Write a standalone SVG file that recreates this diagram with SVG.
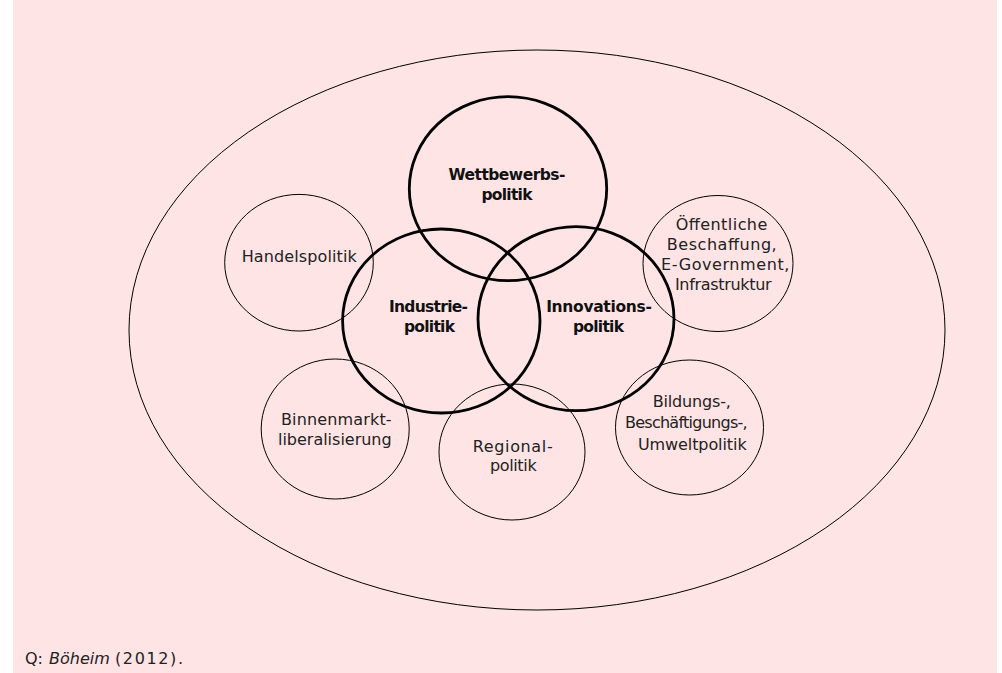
<svg xmlns="http://www.w3.org/2000/svg" width="1002" height="673" viewBox="0 0 1002 673">
<style>
.bg{fill:#fee4e4}
.outer{fill:none;stroke:#000;stroke-width:1}
.thin{fill:none;stroke:#000;stroke-width:1}
.bold{fill:none;stroke:#000;stroke-width:2.8}
.t{font-family:"DejaVu Sans","Liberation Sans",sans-serif;font-size:16px;fill:#222;text-anchor:middle}
.b{font-family:"DejaVu Sans","Liberation Sans",sans-serif;font-size:15.5px;font-weight:bold;fill:#111;text-anchor:middle}
.f{font-family:"DejaVu Sans","Liberation Sans",sans-serif;font-size:16px;fill:#222}
</style>
<rect class="bg" x="13" y="0" width="984" height="673"/>
<g id="outer"><ellipse class="outer" cx="537" cy="330" rx="408" ry="280"/></g>
<g id="handel"><ellipse class="thin" cx="299" cy="262.7" rx="74.3" ry="68.3"/>
<text class="t" x="299.2" y="261.7" textLength="115">Handelspolitik</text></g>
<g id="oeffentlich"><ellipse class="thin" cx="718" cy="263.5" rx="75" ry="68"/>
<text class="t" x="721.5" y="229.5" textLength="91.6">Öffentliche</text>
<text class="t" x="721.7" y="249.5" textLength="110">Beschaffung,</text>
<text class="t" x="725.2" y="269.5" textLength="128.3">E-Government,</text>
<text class="t" x="723.3" y="289.5" textLength="96.7">Infrastruktur</text></g>
<g id="binnen"><ellipse class="thin" cx="335.2" cy="429" rx="74" ry="70"/>
<text class="t" x="336.3" y="425" textLength="110.7">Binnenmarkt-</text>
<text class="t" x="334.8" y="445" textLength="113.7">liberalisierung</text></g>
<g id="regional"><ellipse class="thin" cx="512" cy="452" rx="73" ry="68"/>
<text class="t" x="512.7" y="451.7" textLength="80">Regional-</text>
<text class="t" x="513.3" y="471" textLength="46.7">politik</text></g>
<g id="bildung"><ellipse class="thin" cx="689.5" cy="427.5" rx="74" ry="67.5"/>
<text class="t" x="691.8" y="407" textLength="78.3">Bildungs-,</text>
<text class="t" x="686.3" y="428" textLength="122.7">Beschäftigungs-,</text>
<text class="t" x="692.3" y="449.5" textLength="108.7">Umweltpolitik</text></g>
<g id="wettbewerb"><ellipse class="bold" cx="508" cy="188.7" rx="98.7" ry="92"/>
<text class="b" x="507" y="180" textLength="117">Wettbewerbs-</text>
<text class="b" x="507" y="199.5" textLength="51">politik</text></g>
<g id="industrie"><ellipse class="bold" cx="441.3" cy="321" rx="98.7" ry="92"/>
<text class="b" x="428.5" y="311.7" textLength="79">Industrie-</text>
<text class="b" x="429.5" y="331.5" textLength="51">politik</text></g>
<g id="innovation"><ellipse class="bold" cx="576" cy="318.7" rx="98" ry="92"/>
<text class="b" x="599" y="311.7" textLength="105.7">Innovations-</text>
<text class="b" x="598.5" y="331.5" textLength="51">politik</text></g>
<g id="connectors"></g>
<g id="source">
<text class="f" x="25" y="664.3">Q:</text>
<text class="f" x="49" y="664.3" font-style="italic">Böheim</text>
<text class="f" x="115" y="664.3" textLength="68">(2012).</text>
</g>
</svg>
